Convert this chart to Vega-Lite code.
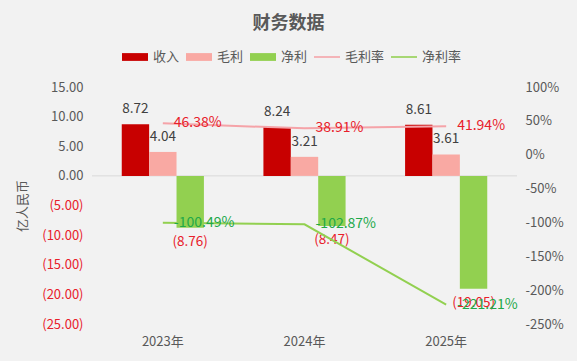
{
  "$schema": "https://vega.github.io/schema/vega-lite/v6.json",
  "autosize": {"type": "none"},
  "padding": {"left": 92, "top": 87, "right": 60, "bottom": 37},
  "width": 425,
  "height": 237,
  "background": "#F2F2F2",
  "title": {
    "text": "财务数据",
    "font": "Noto Sans CJK SC",
    "fontSize": 18,
    "fontWeight": "bold",
    "color": "#595959",
    "anchor": "middle",
    "frame": "group",
    "dx": -16,
    "offset": 11
  },
  "config": {
    "view": {"stroke": null},
    "font": "Noto Sans CJK SC",
    "locale": {"number": {"decimal": ".", "thousands": ",", "grouping": [3], "currency": ["$", ""], "minus": "-"}}
  },
  "datasets": {
    "bars": [
      {"year": "2023年", "series": "收入", "value": 8.72},
      {"year": "2023年", "series": "毛利", "value": 4.04},
      {"year": "2023年", "series": "净利", "value": -8.76},
      {"year": "2024年", "series": "收入", "value": 8.24},
      {"year": "2024年", "series": "毛利", "value": 3.21},
      {"year": "2024年", "series": "净利", "value": -8.47},
      {"year": "2025年", "series": "收入", "value": 8.61},
      {"year": "2025年", "series": "毛利", "value": 3.61},
      {"year": "2025年", "series": "净利", "value": -19.05}
    ],
    "lines": [
      {"year": "2023年", "series": "毛利率", "value": 0.4638},
      {"year": "2024年", "series": "毛利率", "value": 0.3891},
      {"year": "2025年", "series": "毛利率", "value": 0.4194},
      {"year": "2023年", "series": "净利率", "value": -1.0049},
      {"year": "2024年", "series": "净利率", "value": -1.0287},
      {"year": "2025年", "series": "净利率", "value": -2.2121}
    ]
  },
  "layer": [
    {
      "encoding": {
        "y": {
          "type": "quantitative",
          "scale": {"domain": [-25, 15], "nice": false, "zero": false},
          "axis": {
            "title": "亿人民币",
            "titleFontSize": 13,
            "titleFontWeight": "normal",
            "titleColor": "#595959",
            "titlePadding": 12,
            "values": [15, 10, 5, 0, -5, -10, -15, -20, -25],
            "format": "(.2f",
            "grid": false,
            "domain": false,
            "ticks": false,
            "labelPadding": 9,
            "labelFontSize": 13,
            "labelColor": {"condition": {"test": "datum.value < 0", "value": "#E8202A"}, "value": "#595959"}
          }
        }
      },
      "layer": [
        {
          "data": {"values": [{}]},
          "mark": {"type": "rule", "color": "#D9D9D9", "strokeWidth": 1},
          "encoding": {"y": {"datum": 0, "type": "quantitative"}}
        },
        {
          "data": {"name": "bars"},
          "mark": {"type": "bar"},
          "encoding": {
            "x": {
              "field": "year",
              "type": "nominal",
              "scale": {"paddingInner": 0.42, "paddingOuter": 0.21},
              "axis": {
                "title": null,
                "labelAngle": 0,
                "domain": false,
                "ticks": false,
                "labelPadding": 11,
                "labelFontSize": 13,
                "labelColor": "#595959"
              }
            },
            "xOffset": {"field": "series", "type": "nominal", "sort": ["收入", "毛利", "净利"], "scale": {"paddingInner": 0, "paddingOuter": 0}},
            "y": {"field": "value", "type": "quantitative"},
            "color": {
              "field": "series",
              "type": "nominal",
              "scale": {
                "domain": ["收入", "毛利", "净利", "毛利率", "净利率"],
                "range": ["#C80000", "#F9A9A3", "#92D050", "#F5A3A8", "#92D050"]
              },
              "legend": {
                "title": null,
                "orient": "none",
                "direction": "horizontal",
                "legendX": 30,
                "legendY": -43,
                "labelFontSize": 13,
                "labelColor": "#595959",
                "labelOffset": 5,
                "columnPadding": 6,
                "symbolSize": 676,
                "symbolStrokeWidth": 0,
                "encode": {
                  "symbols": {
                    "update": {
                      "shape": {"signal": "datum.value === '毛利率' || datum.value === '净利率' ? 'M-1,-0.06H1V0.06H-1Z' : 'M-1,-0.3H1V0.3H-1Z'"}
                    }
                  }
                }
              }
            }
          }
        },
        {
          "data": {"name": "bars"},
          "transform": [{"filter": "datum.value >= 0"}],
          "mark": {"type": "text", "baseline": "bottom", "dy": -8, "fontSize": 13.5, "color": "#404040"},
          "encoding": {
            "x": {"field": "year", "type": "nominal"},
            "xOffset": {"field": "series", "type": "nominal", "sort": ["收入", "毛利", "净利"]},
            "y": {"field": "value", "type": "quantitative"},
            "text": {"field": "value", "type": "quantitative", "format": "(.2f"}
          }
        },
        {
          "data": {"name": "bars"},
          "transform": [{"filter": "datum.value < 0"}],
          "mark": {"type": "text", "baseline": "top", "dy": 7, "fontSize": 13.5, "color": "#E8202A"},
          "encoding": {
            "x": {"field": "year", "type": "nominal"},
            "xOffset": {"field": "series", "type": "nominal", "sort": ["收入", "毛利", "净利"]},
            "y": {"field": "value", "type": "quantitative"},
            "text": {"field": "value", "type": "quantitative", "format": "(.2f"}
          }
        }
      ]
    },
    {
      "data": {"name": "lines"},
      "encoding": {
        "x": {"field": "year", "type": "nominal"},
        "y": {
          "field": "value",
          "type": "quantitative",
          "scale": {"domain": [-2.5, 1], "nice": false, "zero": false},
          "axis": {
            "title": null,
            "orient": "right",
            "values": [1, 0.5, 0, -0.5, -1, -1.5, -2, -2.5],
            "format": ".0%",
            "grid": false,
            "domain": false,
            "ticks": false,
            "labelPadding": 8,
            "labelFontSize": 13,
            "labelColor": "#595959"
          }
        }
      },
      "layer": [
        {
          "transform": [{"filter": "datum.series === '毛利率'"}],
          "mark": {"type": "line", "strokeWidth": 2, "color": "#F5A3A8"},
          "encoding": {}
        },
        {
          "transform": [{"filter": "datum.series === '净利率'"}],
          "mark": {"type": "line", "strokeWidth": 2, "color": "#92D050"},
          "encoding": {}
        },
        {
          "transform": [{"filter": "datum.series === '毛利率'"}],
          "mark": {"type": "text", "align": "left", "baseline": "middle", "dx": 11, "fontSize": 14, "color": "#E8202A"},
          "encoding": {"text": {"field": "value", "type": "quantitative", "format": ".2%"}}
        },
        {
          "transform": [{"filter": "datum.series === '净利率'"}],
          "mark": {"type": "text", "align": "left", "baseline": "middle", "dx": 11, "fontSize": 14, "color": "#21A849"},
          "encoding": {"text": {"field": "value", "type": "quantitative", "format": ".2%"}}
        }
      ]
    }
  ],
  "resolve": {"scale": {"y": "independent"}}
}
